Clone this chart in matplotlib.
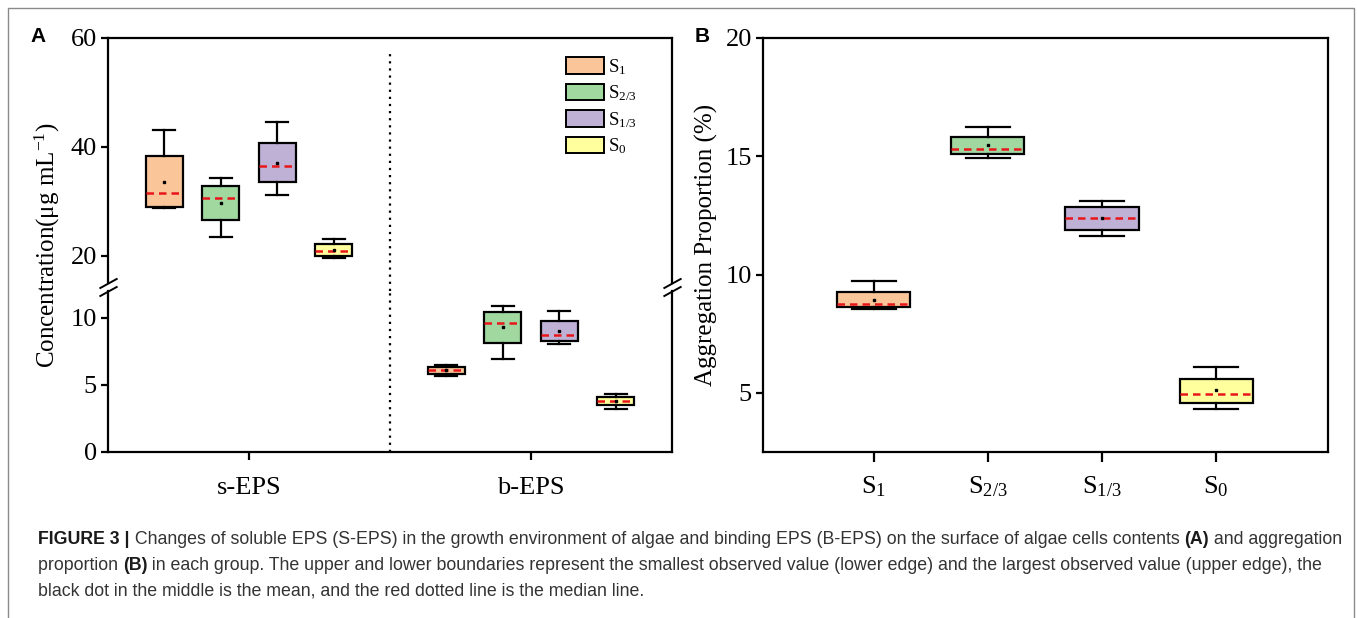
import numpy as np
import matplotlib
matplotlib.use('Agg')
import matplotlib.pyplot as plt
from matplotlib.patches import Patch
from matplotlib.lines import Line2D
from matplotlib import font_manager
from matplotlib.font_manager import FontProperties

W, H = 1357, 618
plt.rcParams['font.family'] = ['Liberation Serif', 'DejaVu Serif']
plt.rcParams['mathtext.fontset'] = 'custom'
plt.rcParams['mathtext.rm'] = 'Liberation Serif'
plt.rcParams['mathtext.it'] = 'Liberation Serif:italic'
plt.rcParams['mathtext.bf'] = 'Liberation Serif:bold'

# ---------------- data ----------------
series_labels = [r'$\mathrm{S_{1}}$', r'$\mathrm{S_{2/3}}$', r'$\mathrm{S_{1/3}}$', r'$\mathrm{S_{0}}$']
colors = ['#FAC699', '#A0D8A0', '#BFB0D6', '#FFFF9E']
eps_groups = ['s-EPS', 'b-EPS']

# s-EPS concentration (ug/mL)
s_lo   = [28.8, 23.5, 31.2, 19.6]
s_q1   = [29.0, 26.6, 33.5, 20.0]
s_med  = [31.5, 30.6, 36.5, 20.8]
s_mean = [33.6, 29.7, 37.1, 21.0]
s_q3   = [38.3, 32.9, 40.7, 22.1]
s_hi   = [43.1, 34.2, 44.5, 23.0]

# b-EPS concentration (ug/mL)
b_lo   = [5.63, 6.96, 8.05, 3.21]
b_q1   = [5.83, 8.12, 8.27, 3.48]
b_med  = [6.12, 9.63, 8.69, 3.80]
b_mean = [6.10, 9.28, 8.99, 3.82]
b_q3   = [6.35, 10.42, 9.75, 4.12]
b_hi   = [6.47, 10.86, 10.49, 4.32]

# aggregation proportion (%)
a_lo   = [8.54, 14.94, 11.65, 4.31]
a_q1   = [8.63, 15.10, 11.89, 4.56]
a_med  = [8.77, 15.32, 12.38, 4.96]
a_mean = [8.94, 15.46, 12.38, 5.11]
a_q3   = [9.27, 15.80, 12.87, 5.58]
a_hi   = [9.72, 16.25, 13.10, 6.11]

ticksA_top = [20, 40, 60]
ticksA_bot = [0, 5, 10]
ticksB = [5, 10, 15, 20]

# ---------------- figure ----------------
fig = plt.figure(figsize=(W / 100, H / 100), dpi=100)

def fx(px):
    return px / W

def fy(py):
    return 1 - py / H

axT = fig.add_axes([fx(108), fy(283), fx(672) - fx(108), fy(38) - fy(283)])
axB = fig.add_axes([fx(108), fy(452), fx(672) - fx(108), fy(291) - fy(452)])
axP = fig.add_axes([fx(763), fy(452), fx(1328) - fx(763), fy(38) - fy(452)])

LW = 1.6
TICKFS = 19

def draw_boxes(ax, pos, lo, q1, med, mean, q3, hi, width):
    stats = [dict(whislo=a, q1=b, med=c, mean=d, q3=e, whishi=f, fliers=[])
             for a, b, c, d, e, f in zip(lo, q1, med, mean, q3, hi)]
    bp = ax.bxp(stats, positions=pos, widths=width, capwidths=width * 0.6,
                showmeans=True, patch_artist=True, showfliers=False, manage_ticks=False,
                boxprops=dict(edgecolor='black', linewidth=LW),
                whiskerprops=dict(color='black', linewidth=LW),
                capprops=dict(color='black', linewidth=LW),
                medianprops=dict(color='#E8161B', linewidth=1.8, linestyle=(0, (3, 2))),
                meanprops=dict(marker='s', markerfacecolor='black', markeredgecolor='black',
                               markersize=2.0, linestyle='none'))
    for patch, c in zip(bp['boxes'], colors):
        patch.set_facecolor(c)
    return bp

offsets = np.array([-1.5, -0.5, 0.5, 1.5]) * 0.2
wA = 0.13
group_pos = np.arange(1, len(eps_groups) + 1)

draw_boxes(axT, group_pos[0] + offsets, s_lo, s_q1, s_med, s_mean, s_q3, s_hi, wA)
draw_boxes(axB, group_pos[1] + offsets, b_lo, b_q1, b_med, b_mean, b_q3, b_hi, wA)

for ax in (axT, axB):
    ax.set_xlim(0.5, 2.5)
    for sp in ax.spines.values():
        sp.set_linewidth(LW)
    ax.tick_params(axis='y', direction='out', length=5, width=LW, labelsize=TICKFS, pad=3, right=False)

axT.set_ylim(15, 60)
axT.set_yticks(ticksA_top)
axT.spines['bottom'].set_visible(False)
axT.tick_params(axis='x', bottom=False, labelbottom=False)

axB.set_ylim(0, 12)
axB.set_yticks(ticksA_bot)
axB.spines['top'].set_visible(False)
axB.set_xticks(group_pos)
axB.set_xticklabels(eps_groups)
axB.tick_params(axis='x', direction='out', length=6, width=LW, labelsize=TICKFS, pad=12)

# dotted separator
gap = (291 - 283) / (283 - 38)
axT.axvline(1.5, ymin=-gap, ymax=0.95, color='black', lw=1.6, ls=(0, (1, 2.2)), clip_on=False)
axB.axvline(1.5, ymin=0, ymax=1, color='black', lw=1.6, ls=(0, (1, 2.2)))

# break marks
kw = dict(marker=[(-1, -0.55), (1, 0.55)], markersize=13, linestyle='none',
          color='black', mec='black', mew=1.4, clip_on=False)
axT.plot([0, 1], [0, 0], transform=axT.transAxes, **kw)
axB.plot([0, 1], [1, 1], transform=axB.transAxes, **kw)

# legend
handles = [Patch(facecolor=c, edgecolor='black', linewidth=1.4) for c in colors]
leg = axT.legend(handles, series_labels, loc='upper left',
                 bbox_to_anchor=(fx(566), fy(57)), bbox_transform=fig.transFigure,
                 frameon=False, fontsize=13.5, handlelength=2.0, handleheight=0.95,
                 handletextpad=0.25, labelspacing=0.36, borderpad=0, borderaxespad=0)

# panel B
xposB = np.arange(1, len(series_labels) + 1)
draw_boxes(axP, xposB, a_lo, a_q1, a_med, a_mean, a_q3, a_hi, 0.64)
axP.set_xlim(0.03, 4.98)
axP.set_ylim(2.5, 20)
axP.set_yticks(ticksB)
axP.set_xticks(xposB)
axP.set_xticklabels(series_labels)
for sp in axP.spines.values():
    sp.set_linewidth(LW)
axP.tick_params(axis='y', direction='out', length=5, width=LW, labelsize=TICKFS, pad=3)
axP.tick_params(axis='x', direction='out', length=7, width=LW, labelsize=TICKFS, pad=9)

# axis labels
fig.text(fx(47), fy(245), r'Concentration(μg mL$^{\mathrm{-1}}$)', rotation=90,
         ha='center', va='center', fontsize=18)
fig.text(fx(706), fy(245), 'Aggregation Proportion (%)', rotation=90,
         ha='center', va='center', fontsize=18)

# panel letters
fig.text(fx(38), fy(36), 'A', family=['Liberation Sans', 'DejaVu Sans'], weight='bold',
         fontsize=15, ha='center', va='center')
fig.text(fx(702), fy(36), 'B', family=['Liberation Sans', 'DejaVu Sans'], weight='bold',
         fontsize=15, ha='center', va='center')

# outer frame (open at bottom)
fig.add_artist(Line2D([fx(8), fx(8), fx(1354), fx(1354)], [0, fy(8), fy(8), 0],
                      transform=fig.transFigure, color='#8a8a8a', lw=1.0))

# caption
try:
    font_manager.findfont(FontProperties(family='Liberation Sans Narrow'), fallback_to_default=False)
    cap_fam = ['Liberation Sans Narrow', 'Liberation Sans']
except Exception:
    cap_fam = ['Liberation Sans', 'DejaVu Sans']

cap_lines = [
    [('FIGURE 3 |', True),
     (' Changes of soluble EPS (S-EPS) in the growth environment of algae and binding EPS (B-EPS) on the surface of algae cells contents ', False),
     ('(A)', True), (' and aggregation', False)],
    [('proportion ', False), ('(B)', True),
     (' in each group. The upper and lower boundaries represent the smallest observed value (lower edge) and the largest observed value (upper edge), the', False)],
    [('black dot in the middle is the mean, and the red dotted line is the median line.', False)],
]
cap_y = [540, 566, 591]
renderer = fig.canvas.get_renderer()

def seg_width(s, fs, bold):
    t1 = fig.text(0, 0, '|' + s + '|', fontsize=fs, family=cap_fam, weight='bold' if bold else 'normal')
    t2 = fig.text(0, 0, '||', fontsize=fs, family=cap_fam, weight='bold' if bold else 'normal')
    w = t1.get_window_extent(renderer).width - t2.get_window_extent(renderer).width
    t1.remove(); t2.remove()
    return w

w10 = sum(seg_width(s, 10, b) for s, b in cap_lines[0])
cap_fs = 10 * (1347 - 38) / w10

for segs, yy in zip(cap_lines, cap_y):
    x = 38
    for s, b in segs:
        fig.text(fx(x), fy(yy), s, fontsize=cap_fs, family=cap_fam, weight='bold' if b else 'normal',
                 ha='left', va='center', color='#1a1a1a' if b else '#333333')
        x += seg_width(s, cap_fs, b)

fig.savefig('out.png', dpi=100)
